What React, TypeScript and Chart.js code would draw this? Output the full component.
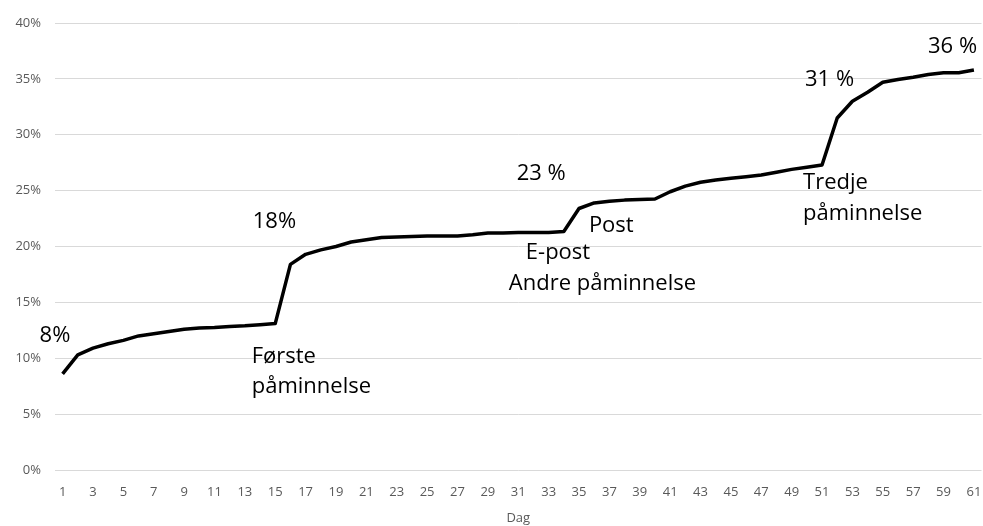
import React, { useEffect, useRef } from "react";
import { Chart, registerables } from "chart.js";

Chart.register(...registerables);

const days: number[] = [
  1, 2, 3, 4, 5, 6, 7, 8, 9, 10, 11, 12, 13, 14, 15, 16, 17, 18, 19, 20,
  21, 22, 23, 24, 25, 26, 27, 28, 29, 30, 31, 32, 33, 34, 35, 36, 37, 38, 39, 40,
  41, 42, 43, 44, 45, 46, 47, 48, 49, 50, 51, 52, 53, 54, 55, 56, 57, 58, 59, 60, 61,
];

const responseRate: number[] = [
  8.6, 10.3, 10.9, 11.3, 11.6, 12.0, 12.2, 12.4, 12.6, 12.7,
  12.75, 12.85, 12.9, 13.0, 13.1, 18.4, 19.3, 19.7, 20.0, 20.4,
  20.6, 20.8, 20.85, 20.9, 20.95, 20.95, 20.95, 21.05, 21.2, 21.2,
  21.25, 21.25, 21.25, 21.35, 23.4, 23.9, 24.05, 24.15, 24.2, 24.25,
  24.9, 25.4, 25.75, 25.95, 26.1, 26.25, 26.4, 26.65, 26.9, 27.1,
  27.3, 31.5, 33.0, 33.8, 34.7, 34.95, 35.15, 35.4, 35.55, 35.55, 35.8,
];

const xTickLabels: number[] = [
  1, 3, 5, 7, 9, 11, 13, 15, 17, 19, 21, 23, 25, 27, 29, 31,
  33, 35, 37, 39, 41, 43, 45, 47, 49, 51, 53, 55, 57, 59, 61,
];

const yTicks: number[] = [0, 5, 10, 15, 20, 25, 30, 35, 40];

// annotation texts anchored in data space (day, percent) at their left baseline
const annotationTexts: string[] = [
  "8%", "18%", "Første", "påminnelse", "23 %", "Post", "E-post",
  "Andre påminnelse", "31 %", "36 %", "Tredje", "påminnelse",
];
const annotationDays: number[] = [
  -0.515, 13.52, 13.45, 13.45, 30.9, 35.65, 31.5, 30.38, 49.88, 57.98, 49.75, 49.75,
];
const annotationValues: number[] = [
  11.46, 21.67, 9.58, 6.89, 25.96, 21.31, 18.89, 16.11, 34.38, 37.33, 25.16, 22.38,
];

const annotationPlugin = {
  id: "textAnnotations",
  afterDraw(chart: any) {
    const { ctx, scales } = chart;
    ctx.save();
    ctx.fillStyle = "#000000";
    ctx.font = "22px 'Open Sans'";
    ctx.textAlign = "left";
    ctx.textBaseline = "alphabetic";
    annotationTexts.forEach((t, i) => {
      const x = scales.x.getPixelForValue(annotationDays[i]);
      const y = scales.y.getPixelForValue(annotationValues[i]);
      ctx.fillText(t, x, y);
    });
    ctx.restore();
  },
};

export default function App() {
  const ref = useRef<HTMLCanvasElement | null>(null);

  useEffect(() => {
    document.body.style.margin = "0";
    const canvas = ref.current;
    if (!canvas) return;
    const chart = new Chart(canvas, {
      type: "line",
      data: {
        datasets: [
          {
            data: days.map((d, i) => ({ x: d, y: responseRate[i] })),
            borderColor: "#000000",
            borderWidth: 3.5,
            pointRadius: 0,
            tension: 0,
            fill: false,
            borderJoinStyle: "round",
          },
        ],
      },
      options: {
        responsive: false,
        animation: false,
        devicePixelRatio: 1,
        layout: { padding: { top: 23, right: 1.5, left: 0, bottom: 0 } },
        plugins: {
          legend: { display: false },
          tooltip: { enabled: false },
        },
        scales: {
          x: {
            type: "linear",
            min: 0.5,
            max: 61.5,
            afterBuildTicks: (s: any) => {
              s.ticks = xTickLabels.map((v) => ({ value: v }));
            },
            afterFit: (s: any) => {
              s.height = 56;
              s.paddingLeft = 0;
              s.paddingRight = 0;
            },
            grid: { display: false, drawTicks: false },
            border: { display: false },
            ticks: {
              autoSkip: false,
              maxRotation: 0,
              padding: 14,
              color: "#595959",
              font: { family: "'Open Sans'", size: 13 },
              callback: (v: any) => String(v),
            },
            title: {
              display: true,
              text: "Dag",
              color: "#595959",
              font: { family: "'Open Sans'", size: 13 },
              padding: { top: 4, bottom: 0 },
            },
          },
          y: {
            min: 0,
            max: 40,
            afterBuildTicks: (s: any) => {
              s.ticks = yTicks.map((v) => ({ value: v }));
            },
            afterFit: (s: any) => {
              s.width = 55;
              s.paddingTop = 0;
              s.paddingBottom = 0;
            },
            grid: { color: "#d9d9d9", lineWidth: 1, drawTicks: false },
            border: { display: false },
            ticks: {
              padding: 14,
              color: "#595959",
              font: { family: "'Open Sans'", size: 13 },
              callback: (v: any) => v + "%",
            },
          },
        },
      },
      plugins: [annotationPlugin],
    } as any);
    return () => chart.destroy();
  }, []);

  return (
    <div style={{ position: "absolute", left: 0, top: 0, width: 983, height: 526 }}>
      <canvas ref={ref} width={983} height={526} style={{ width: 983, height: 526 }} />
    </div>
  );
}
